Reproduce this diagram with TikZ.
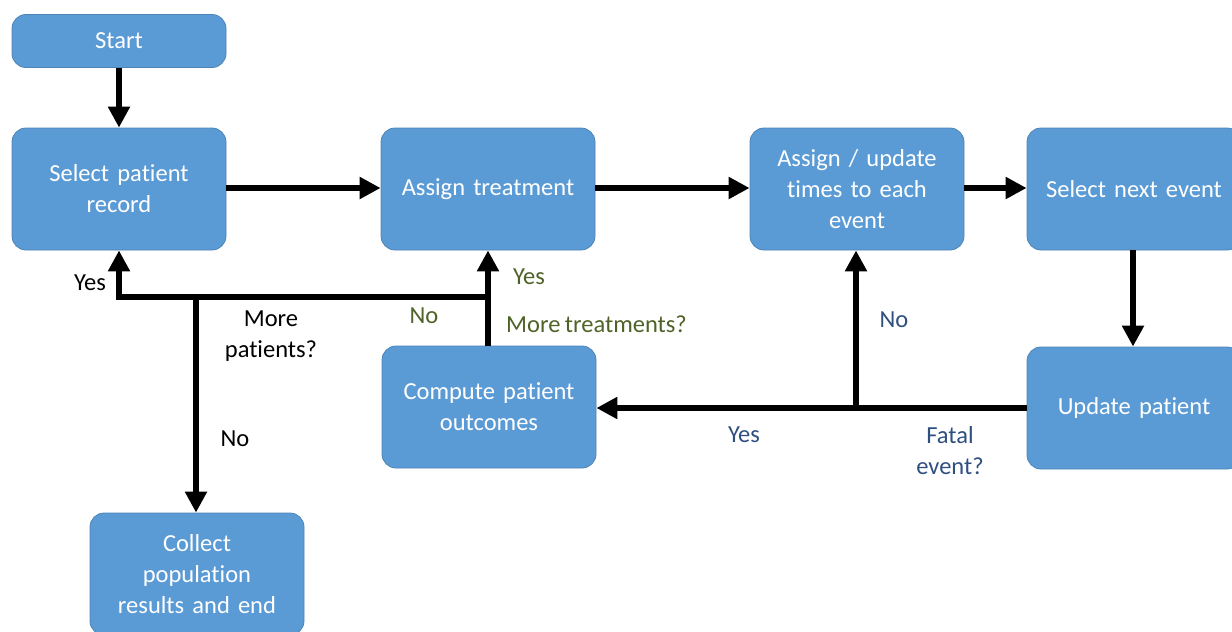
\documentclass[tikz,border=0pt]{standalone}
\usepackage{fontspec}
\setmainfont{Carlito}[Ligatures=NoCommon, WordSpace=0.8]
\usetikzlibrary{arrows.meta}
\definecolor{boxblue}{HTML}{5B9BD5}
\definecolor{lblgreen}{HTML}{4F6228}
\definecolor{lblblue}{HTML}{2F4F80}
\tikzset{
  box/.style={draw=boxblue!85!black, line width=0.8pt, fill=boxblue, rounded corners=14pt,
    minimum width=214pt, minimum height=122pt, text width=210pt, align=center,
    text=white, font=\fontsize{24.5}{31}\selectfont, inner sep=0pt},
  startbox/.style={box, minimum height=53pt},
  conn/.style={line width=6pt, -{Triangle[length=21pt,width=21pt]}},
  lbl/.style={font=\fontsize{24.5}{31}\selectfont, inner sep=0pt, align=center}
}
\begin{document}
\begin{tikzpicture}[x=1pt,y=-1pt]
\useasboundingbox (0,0) rectangle (1232,632);
\clip (0,0) rectangle (1232,632);
\node[startbox] (start) at (119,41) {Start};
\node[box] (select) at (119,189) {Select patient\\record};
\node[box] (treat) at (488,189) {Assign treatment};
\node[box] (times) at (857,189) {Assign / update\\times to each\\event};
\node[box] (next) at (1134,189) {Select next event};
\node[box] (update) at (1134,408) {Update patient};
\node[box] (compute) at (489,407) {Compute patient\\outcomes};
\node[box] (collect) at (197,574) {Collect\\population\\results and end};

\coordinate (jfatal) at (856,408);
\coordinate (jtreat) at (488,297);
\coordinate (jleft) at (119,297);
\coordinate (jpat) at (196,297);

\draw[conn] (start) -- (select);
\draw[conn] (select.east |- 0,188) -- (treat.west |- 0,188);
\draw[conn] (treat.east |- 0,188) -- (times.west |- 0,188);
\draw[conn] (times.east |- 0,188) -- (next.west |- 0,188);
\draw[conn] (next.south -| 1133,0) -- (update.north -| 1133,0);
\draw[conn] (update.west) -- (compute.east |- jfatal);
\draw[conn] (jfatal) -- (times.south -| jfatal);
\draw[conn] (compute.north -| jtreat) -- (treat.south -| jtreat);
\draw[conn] (jtreat) -- (jleft) -- (select.south -| jleft);
\draw[conn] (jpat) -- (collect.north -| jpat);

\node[lbl, text=black] (yes1) at (90,283) {Yes};
\node[lbl, text=black] (morep) at (271,336) {More\\patients?};
\node[lbl, text=black] (no1) at (235,439) {No};
\node[lbl, text=lblgreen] (no2) at (424,316) {No};
\node[lbl, text=lblgreen] (yes2) at (529,277) {Yes};
\node[lbl, text=lblgreen, anchor=west] (moret) at (506,324) {More treatments?};
\node[lbl, text=lblblue] (no3) at (894,320) {No};
\node[lbl, text=lblblue] (yes3) at (744,435) {Yes};
\node[lbl, text=lblblue] (fatal) at (950,451) {Fatal\\event?};
\end{tikzpicture}
\end{document}
